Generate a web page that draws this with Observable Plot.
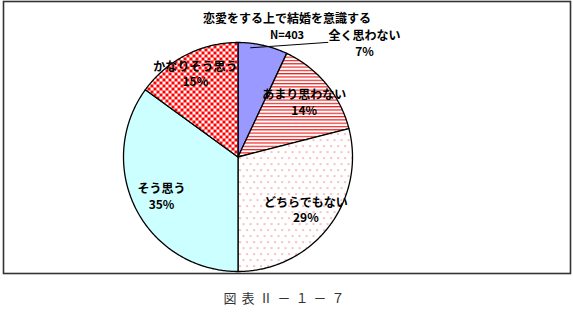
<!DOCTYPE html>
<html><head><meta charset="utf-8">
<script src="https://cdn.jsdelivr.net/npm/d3@7"></script>
<script src="https://cdn.jsdelivr.net/npm/@observablehq/plot@0.6"></script>
<style>
body{margin:0;background:#fff;}
#chart{width:573px;height:280px;}
#cap{width:573px;text-align:center;margin-top:9px;font-family:"Noto Sans CJK JP",sans-serif;font-size:13px;line-height:18px;letter-spacing:5px;color:#333;}
</style>
</head><body>
<div id="chart"></div>
<div id="cap"></div>
<script>
const title = "恋愛をする上で結婚を意識する";
const subtitle = "N=403";
const categories = ["全く思わない", "あまり思わない", "どちらでもない", "そう思う", "かなりそう思う"];
const values = [7, 14, 29, 35, 15];
const caption = "図表Ⅱ－１－７";

// layout
const cx = 237.5, cy = 156.5, r = 114.5;
const arcs = d3.pie().sort(null).value(d => d)(values);

const pts = [];
arcs.forEach((a, i) => {
  pts.push({i, x: 0, y: 0});
  const n = Math.max(4, Math.ceil((a.endAngle - a.startAngle) / 0.01));
  for (let k = 0; k <= n; k++) {
    const t = a.startAngle + (a.endAngle - a.startAngle) * k / n;
    pts.push({i, x: Math.sin(t), y: Math.cos(t)});
  }
});

const labels = arcs.map((a, i) => {
  const m = (a.startAngle + a.endAngle) / 2;
  const rr = i === 4 ? 0.82 : 0.75;
  return {text: categories[i] + "\n" + values[i] + "%", x: Math.sin(m) * rr, y: Math.cos(m) * rr, i};
});
// outer label for the small slice
const outer = {x: 1.105, y: 0.996};
labels[0].x = outer.x; labels[0].y = outer.y;
const leadStart = 0.5 * (arcs[0].startAngle + arcs[0].endAngle) * 0.52;
const leader = [
  {x: Math.sin(leadStart) * 0.96, y: Math.cos(leadStart) * 0.96},
  {x: outer.x - 0.32, y: outer.y + 0.005}
];

const svg = Plot.plot({
  width: 573,
  height: 280,
  marginLeft: 3, marginRight: 3, marginTop: 1, marginBottom: 7,
  x: {domain: [-1, 1], range: [cx - r, cx + r], axis: null},
  y: {domain: [-1, 1], range: [cy + r, cy - r], axis: null},
  color: {type: "identity"},
  style: {fontFamily: "'Noto Sans CJK JP', sans-serif", background: "#fff"},
  marks: [
    Plot.frame({stroke: "#333", strokeWidth: 1.6}),
    Plot.line(pts, {x: "x", y: "y", z: "i", fill: d => "url(#pat" + d.i + ")", stroke: "#000", strokeWidth: 1.3, curve: "linear-closed"}),
    Plot.line(leader, {x: "x", y: "y", stroke: "#000", strokeWidth: 1}),
    Plot.text(labels, {x: "x", y: "y", text: "text", fontSize: 12, fontWeight: "bold", fill: "#000", lineHeight: 1.3}),
    Plot.text([title], {frameAnchor: "top", dy: 13, fontSize: 12, fontWeight: "bold", fill: "#000"}),
    Plot.text([subtitle], {frameAnchor: "top", dy: 30, fontSize: 11, fontWeight: "bold", fill: "#000"})
  ]
});

const defs = d3.select(svg).insert("defs", ":first-child");
defs.append("pattern").attr("id", "pat0").attr("patternUnits", "userSpaceOnUse").attr("width", 4).attr("height", 4)
  .append("rect").attr("width", 4).attr("height", 4).attr("fill", "#9999ff");
{
  const p = defs.append("pattern").attr("id", "pat1").attr("patternUnits", "userSpaceOnUse").attr("width", 4).attr("height", 3.3);
  p.append("rect").attr("width", 4).attr("height", 3.3).attr("fill", "#fff");
  p.append("rect").attr("y", 0).attr("width", 4).attr("height", 1.2).attr("fill", "#ee2222");
}
{
  const p = defs.append("pattern").attr("id", "pat2").attr("patternUnits", "userSpaceOnUse").attr("width", 7).attr("height", 12);
  p.append("rect").attr("width", 7).attr("height", 12).attr("fill", "#fff");
  p.append("rect").attr("x", 1).attr("y", 1).attr("width", 1.1).attr("height", 1.1).attr("fill", "#e83333");
  p.append("rect").attr("x", 4.5).attr("y", 7).attr("width", 1.1).attr("height", 1.1).attr("fill", "#e83333");
}
defs.append("pattern").attr("id", "pat3").attr("patternUnits", "userSpaceOnUse").attr("width", 4).attr("height", 4)
  .append("rect").attr("width", 4).attr("height", 4).attr("fill", "#ccffff");
{
  const p = defs.append("pattern").attr("id", "pat4").attr("patternUnits", "userSpaceOnUse").attr("width", 6).attr("height", 6);
  p.append("rect").attr("width", 6).attr("height", 6).attr("fill", "#fff");
  p.append("rect").attr("width", 3).attr("height", 3).attr("fill", "#ff0000");
  p.append("rect").attr("x", 3).attr("y", 3).attr("width", 3).attr("height", 3).attr("fill", "#ff0000");
}

document.getElementById("chart").appendChild(svg);
document.getElementById("cap").textContent = caption;
</script>
</body></html>
